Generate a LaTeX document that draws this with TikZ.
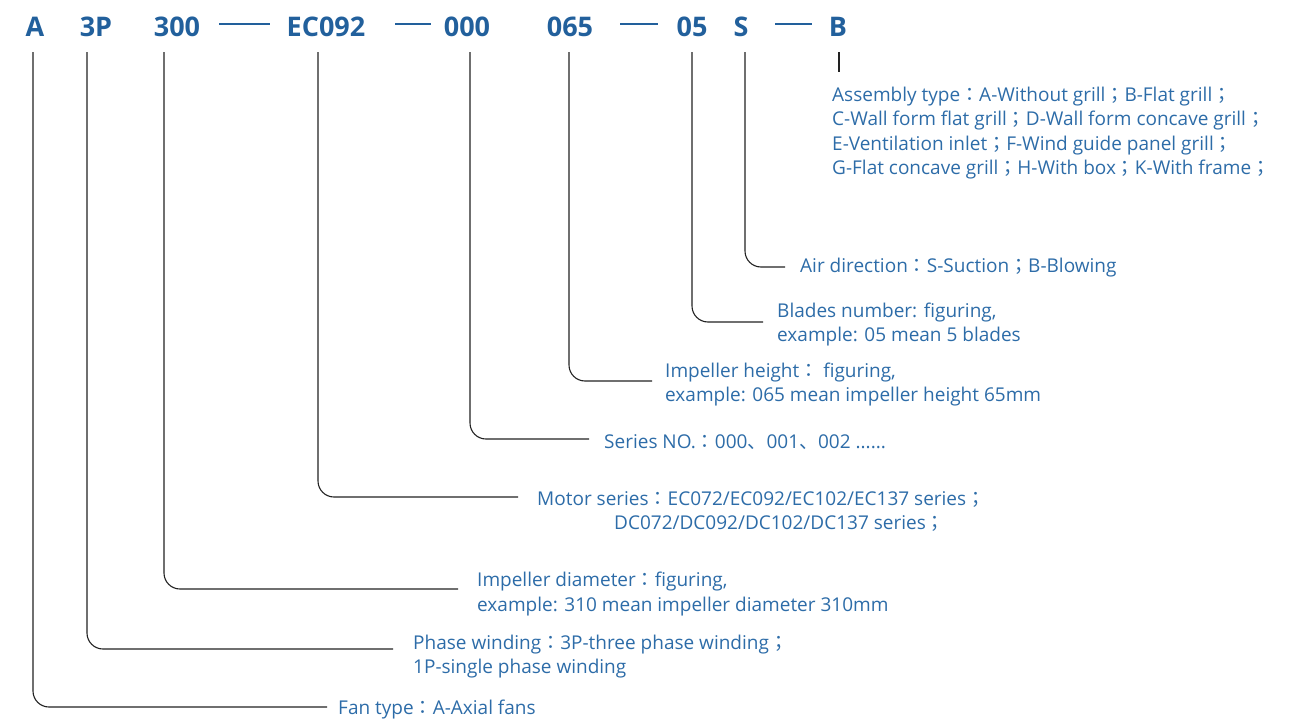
\documentclass[tikz,border=0pt]{standalone}
\usepackage{fontspec}
\setmainfont{Open Sans}
\newfontfamily\cjksc{Noto Sans CJK SC}
\newfontfamily\cjktc{Noto Sans CJK TC}
\newcommand\zcolon{{\cjktc ：}}
\newcommand\zsemi{{\cjktc ；}}
\newcommand\zcomma{{\cjksc 、}}
\definecolor{hdblue}{HTML}{22609C}
\definecolor{txblue}{HTML}{2D6CA8}
\definecolor{lncol}{HTML}{222222}
\begin{document}
\begin{tikzpicture}[x=1pt,y=-1pt,
  head/.style={font=\fontsize{27}{30}\selectfont\bfseries, text=hdblue, inner sep=0pt, anchor=base, text depth=0pt},
  dashbar/.style={fill=hdblue, minimum height=2.2pt, inner sep=0pt},
  lbl/.style={font=\fontsize{19}{24.5}\selectfont, text=txblue, inner sep=0pt, anchor=west, align=left},
  conn/.style={draw=lncol, line width=1.1pt, rounded corners=16pt}
]
\useasboundingbox (0,0) rectangle (1309,720);
% header
\node[head] (hA) at (35,36) {A};
\node[head] (h3P) at (96,36) {3P};
\node[head] (h300) at (177,36) {300};
\node[dashbar, minimum width=51pt] (d1) at (244.5,24) {};
\node[head] (hEC) at (326,36) {EC092};
\node[dashbar, minimum width=36pt] (d2) at (413,24) {};
\node[head] (h000) at (467,36) {000};
\node[head] (h065) at (570,36) {065};
\node[dashbar, minimum width=38pt] (d3) at (639,24) {};
\node[head] (h05) at (692,36) {05};
\node[head] (hS) at (741,36) {S};
\node[dashbar, minimum width=37pt] (d4) at (793.5,24) {};
\node[head] (hB) at (838,36) {B};
% labels
\node[lbl] (lB) at (832,133) {Assembly type\zcolon A-Without grill\zsemi B-Flat grill\zsemi\\C-Wall form flat grill\zsemi D-Wall form concave grill\zsemi\\E-Ventilation inlet\zsemi F-Wind guide panel grill\zsemi\\G-Flat concave grill\zsemi H-With box\zsemi K-With frame\zsemi};
\node[lbl] (lS) at (800,267.5) {Air direction\zcolon S-Suction\zsemi B-Blowing};
\node[lbl] (l05) at (777,324.5) {Blades number: figuring,\\example: 05 mean 5 blades};
\node[lbl] (l065) at (665,384.5) {Impeller height\zcolon\ figuring,\\example: 065 mean impeller height 65mm};
\node[lbl] (l000) at (604,442.5) {Series NO.\zcolon 000\zcomma 001\zcomma 002 ......};
\node[lbl] (lEC) at (537,511.5) {Motor series\zcolon EC072/EC092/EC102/EC137 series\zsemi\\\hspace*{77pt}DC072/DC092/DC102/DC137 series\zsemi};
\node[lbl] (l300) at (477,594) {Impeller diameter\zcolon figuring,\\example: 310 mean impeller diameter 310mm};
\node[lbl] (l3P) at (413,656.5) {Phase winding\zcolon 3P-three phase winding\zsemi\\1P-single phase winding};
\node[lbl] (lA) at (338,709.5) {Fan type\zcolon A-Axial fans};
% connector ends
\coordinate (eA) at (327,707);
\coordinate (e3P) at (393,649);
\coordinate (e300) at (458,589);
\coordinate (eEC) at (518,497);
\coordinate (e000) at (589,439);
\coordinate (e065) at (652,381);
\coordinate (e05) at (763,322);
\coordinate (eS) at (785,267);
\coordinate (eB) at (839,72);
% connectors
\draw[conn] ([shift={(-2,16)}]hA.south) |- (eA);
\draw[conn] ([shift={(-9,16)}]h3P.south) |- (e3P);
\draw[conn] ([shift={(-13,16)}]h300.south) |- (e300);
\draw[conn] ([shift={(-8,16)}]hEC.south) |- (eEC);
\draw[conn] ([shift={(3,16)}]h000.south) |- (e000);
\draw[conn] ([shift={(-1,16)}]h065.south) |- (e065);
\draw[conn] ([shift={(0,16)}]h05.south) |- (e05);
\draw[conn] ([shift={(4,16)}]hS.south) |- (eS);
\draw[conn] ([shift={(1,16)}]hB.south) -- (eB);
\end{tikzpicture}
\end{document}
